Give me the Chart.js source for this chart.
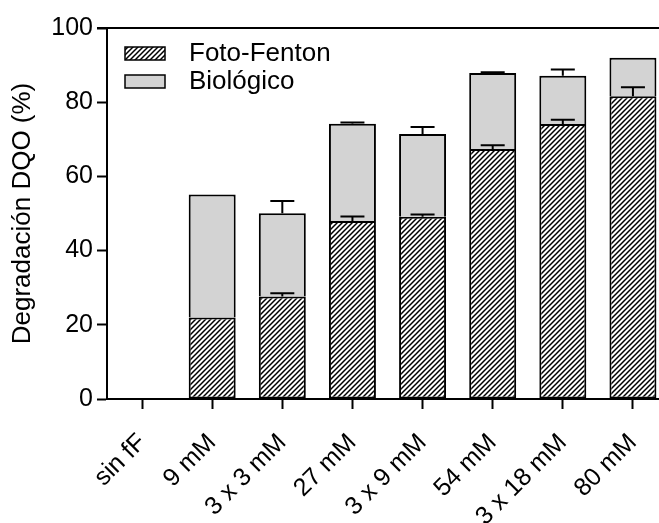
<!DOCTYPE html>
<html>
<head>
<meta charset="utf-8">
<script src="https://cdn.jsdelivr.net/npm/chart.js@4/dist/chart.umd.min.js"></script>
<style>
  html, body { margin: 0; padding: 0; background: #fff; overflow: hidden; }
  #grafico { display: block; }
</style>
</head>
<body>
<canvas id="grafico" width="668" height="523"></canvas>
<script>
// Degradación DQO: barras apiladas Foto-Fenton + Biológico con barras de error

const categorias = ['sin fF', '9 mM', '3 x 3 mM', '27 mM', '3 x 9 mM', '54 mM', '3 x 18 mM', '80 mM'];
const fotoFenton = [0, 22.0, 27.6, 48.0, 49.1, 67.4, 74.1, 81.6];
const biologico = [0, 33.1, 22.5, 26.2, 22.3, 20.5, 13.0, 10.4];
const errFotoFenton = [0, 0, 0.9, 1.2, 0.6, 1.0, 1.2, 2.4];
const errBiologico = [0, 0, 3.3, 0.3, 1.9, 0.2, 1.7, 0];
const ticksY = [0, 20, 40, 60, 80, 100];

const fuente = '"Liberation Sans", Arial, sans-serif';

function patronRayado() {
  const s = 5;
  const c = document.createElement('canvas');
  c.width = s; c.height = s;
  const g = c.getContext('2d');
  g.fillStyle = '#fff';
  g.fillRect(0, 0, s, s);
  g.strokeStyle = '#000';
  g.lineWidth = 1.5;
  g.beginPath();
  g.moveTo(0, s); g.lineTo(s, 0);
  g.moveTo(-1, 1); g.lineTo(1, -1);
  g.moveTo(s - 1, s + 1); g.lineTo(s + 1, s - 1);
  g.stroke();
  return g.createPattern(c, 'repeat');
}

const rayado = patronRayado();
const gris = '#d3d3d3';

// barras de error (solo hacia arriba) usando las escalas del gráfico
const pluginErrores = {
  id: 'errores',
  afterDatasetsDraw(chart) {
    const ctx = chart.ctx;
    const y = chart.scales.y;
    const m0 = chart.getDatasetMeta(0);
    ctx.save();
    ctx.strokeStyle = '#000';
    ctx.lineWidth = 2;
    categorias.forEach((c, i) => {
      const x = m0.data[i].x;
      const pares = [
        [fotoFenton[i], errFotoFenton[i]],
        [fotoFenton[i] + biologico[i], errBiologico[i]]
      ];
      pares.forEach(([v, e]) => {
        if (!e) return;
        const y0 = y.getPixelForValue(v);
        const y1 = y.getPixelForValue(v + e);
        ctx.beginPath();
        ctx.moveTo(x, y0); ctx.lineTo(x, y1);
        ctx.moveTo(x - 12, y1); ctx.lineTo(x + 12, y1);
        ctx.stroke();
      });
    });
    ctx.restore();
  }
};

// leyenda dentro del área y línea superior
const pluginLeyenda = {
  id: 'leyenda',
  afterDraw(chart) {
    const ctx = chart.ctx;
    const a = chart.chartArea;
    ctx.save();
    ctx.strokeStyle = '#000';
    ctx.lineWidth = 2;
    ctx.beginPath();
    ctx.moveTo(a.left - 10, a.top);
    ctx.lineTo(chart.width, a.top);
    ctx.stroke();

    const items = [['Foto-Fenton', rayado, 47], ['Biológico', gris, 75]];
    ctx.lineWidth = 1.5;
    ctx.font = '26px ' + fuente;
    ctx.textBaseline = 'middle';
    items.forEach(([t, f, yy]) => {
      ctx.fillStyle = f;
      ctx.fillRect(125, yy, 40, 13);
      ctx.strokeRect(125, yy, 40, 13);
      ctx.fillStyle = '#000';
      ctx.fillText(t, 189, yy + 7);
    });
    ctx.restore();
  }
};

new Chart(document.getElementById('grafico'), {
  type: 'bar',
  data: {
    labels: categorias,
    datasets: [
      { label: 'Foto-Fenton', data: fotoFenton, backgroundColor: rayado, borderColor: '#000', borderWidth: 2, borderSkipped: false },
      { label: 'Biológico', data: biologico, backgroundColor: gris, borderColor: '#000', borderWidth: 2, borderSkipped: 'bottom' }
    ]
  },
  options: {
    responsive: false,
    animation: false,
    devicePixelRatio: 1,
    layout: { padding: { top: 28, left: 0, right: 0, bottom: 0 } },
    plugins: {
      legend: { display: false },
      tooltip: { enabled: false }
    },
    datasets: { bar: { categoryPercentage: 1, barPercentage: 0.67 } },
    scales: {
      x: {
        stacked: true,
        grid: { display: true, drawOnChartArea: false, offset: false, tickLength: 10, tickWidth: 2, tickColor: '#000' },
        border: { display: true, color: '#000', width: 2 },
        ticks: { color: '#000', font: { family: fuente, size: 25 }, minRotation: 45, maxRotation: 45, padding: 19 },
        afterFit(s) { s.height = 124; s.paddingLeft = 0; s.paddingRight = 0; }
      },
      y: {
        stacked: true,
        min: 0, max: 100,
        afterBuildTicks(s) { s.ticks = ticksY.map(v => ({ value: v })); },
        grid: { display: true, drawOnChartArea: false, tickLength: 10, tickWidth: 2, tickColor: '#000' },
        border: { display: true, color: '#000', width: 2 },
        ticks: { color: '#000', font: { family: fuente, size: 25 }, padding: 4 },
        title: { display: true, text: 'Degradación DQO (%)', color: '#000', font: { family: fuente, size: 26 }, padding: { top: 7, bottom: 4 } },
        afterFit(s) { s.width = 107; }
      }
    }
  },
  plugins: [pluginErrores, pluginLeyenda]
});
</script>
</body>
</html>
